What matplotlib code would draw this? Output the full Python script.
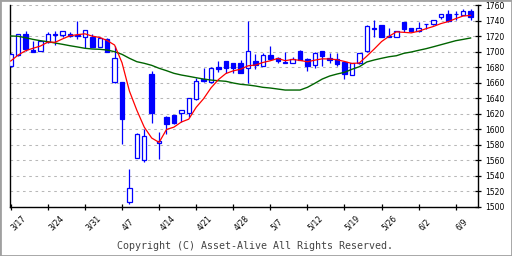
import matplotlib
matplotlib.use("Agg")
import matplotlib.pyplot as plt
from matplotlib.patches import Rectangle

# daily candles (price)
opens = [1681, 1696, 1722.5, 1702.7, 1701.4, 1713, 1723.3, 1721.3, 1723.3, 1721.5,
         1719.5, 1719.5, 1706.5, 1716.9, 1660.6, 1661, 1505.7, 1563.2, 1559.9, 1671.3,
         1581.8, 1615.4, 1618.4, 1620.6, 1620.6, 1638.6, 1664.5, 1660.6, 1680.3, 1688.1,
         1685.5, 1685.5, 1678.7, 1688.1, 1682, 1695.8, 1691.6, 1685.1, 1685.1, 1701,
         1690.3, 1682.5, 1700.6, 1691.6, 1690.3, 1686.6, 1670.4, 1685.1, 1700.6, 1730,
         1734.6, 1720.4, 1719.5, 1738, 1730.7, 1727, 1735.3, 1735.5, 1744.5, 1748.4,
         1749, 1747.5, 1752.6]
highs = [1698, 1723, 1726.4, 1713.9, 1713.5, 1725, 1726.4, 1727, 1725, 1740,
         1728, 1723, 1718, 1718, 1707.8, 1661, 1548.7, 1594.5, 1599.9, 1675.2,
         1596, 1617, 1619, 1625, 1640, 1666.1, 1679, 1680.7, 1688.1, 1688.1,
         1686, 1689.4, 1740.1, 1697.1, 1698.4, 1707.5, 1693, 1699.7, 1693.6, 1702.3,
         1691.6, 1700, 1701, 1698, 1698, 1687, 1686, 1698, 1734.6, 1740.6,
         1735, 1730.3, 1727, 1738, 1731, 1738.4, 1736, 1741, 1748.5, 1753.9,
         1752.3, 1754.8, 1755.2]
lows = [1680, 1695, 1701.4, 1700, 1701.4, 1711, 1708.6, 1719, 1719, 1716,
        1704.5, 1706, 1706, 1700, 1660, 1580.9, 1503, 1563, 1557.3, 1608.4,
        1562, 1593.5, 1607, 1609.7, 1615.4, 1638, 1661, 1660, 1674.3, 1673,
        1673, 1672, 1660.1, 1677.8, 1682, 1689.4, 1685.1, 1685, 1685, 1689,
        1675.6, 1678.7, 1682, 1685.1, 1682, 1665.2, 1670, 1684, 1700, 1719.5,
        1719, 1719, 1719, 1725.9, 1726, 1726, 1729.8, 1735, 1742.7, 1739,
        1741.4, 1747, 1741]
closes = [1697, 1722.5, 1704, 1700, 1713.5, 1722.5, 1721.3, 1726.4, 1720, 1720.5,
          1727.7, 1706.5, 1717.8, 1700, 1691.6, 1613.6, 1523.7, 1593.5, 1591.3, 1621.3,
          1585.2, 1607.1, 1608.4, 1624.4, 1639.9, 1661.9, 1662.3, 1678.7, 1677.6, 1679,
          1679.4, 1673, 1700.6, 1682.5, 1695.4, 1690.7, 1687.7, 1686.3, 1690.3, 1689.4,
          1682, 1698, 1694.7, 1689.4, 1684.3, 1671.1, 1685.1, 1698, 1732.9, 1730.3,
          1719.5, 1719.5, 1726.4, 1729.8, 1727, 1730.3, 1735.5, 1741, 1748.4, 1739.7,
          1749.4, 1752.6, 1744.5]

# short (red) and long (green) moving average lines as drawn
ma_short = [1688.1, 1695.8, 1701.4, 1704.5, 1707.4, 1712.5, 1712.3, 1716.7, 1720.7, 1722.1,
            1723.2, 1720.2, 1718.5, 1714.5, 1708.7, 1685.9, 1649.3, 1624.5, 1602.7, 1588.7,
            1583, 1599.7, 1602.7, 1609.3, 1613, 1628.3, 1639.4, 1653.4, 1664.1, 1671.9,
            1675.4, 1677.5, 1681.9, 1682.9, 1686.2, 1688.4, 1691.4, 1688.5, 1690.1, 1688.9,
            1687.1, 1689.2, 1690.9, 1690.7, 1689.7, 1687.5, 1684.9, 1685.6, 1694.3, 1703.5,
            1713.2, 1720, 1725.7, 1725.1, 1724.4, 1726.6, 1729.8, 1732.7, 1736.4, 1739,
            1742.8, 1746.2, 1746.9]
ma_long = [1720.4, 1720, 1718.2, 1716, 1714.3, 1713, 1711.3, 1709.6, 1707.8, 1706.2,
           1704.5, 1703.6, 1703.2, 1702.3, 1700.1, 1696.7, 1691.6, 1687.2, 1685.1, 1682.5,
           1678.7, 1675.6, 1672.2, 1670, 1668.3, 1666.5, 1664.8, 1663.5, 1662.6, 1661.9,
           1659.7, 1658, 1657.1, 1655.8, 1654.1, 1653.2, 1651.9, 1650.6, 1650.6, 1650.6,
           1654.1, 1659.3, 1664.8, 1668.7, 1671.3, 1673.5, 1677.4, 1680.7, 1686.8, 1689.4,
           1691.6, 1693.6, 1694.9, 1698, 1699.7, 1701.9, 1704, 1706.5, 1709.1, 1711.7,
           1714.3, 1716, 1717.8]

date_labels = ['3/17', '3/24', '3/31', '4/7', '4/14', '4/21', '4/28',
               '5/7', '5/12', '5/19', '5/26', '6/2', '6/9']

blue = '#0000ff'
fig = plt.figure(figsize=(5.12, 2.56), dpi=100)
ax = fig.add_axes([10 / 512, 49.3 / 256, 468 / 512, 201.4 / 256])

xs = list(range(len(closes)))

# grid
ax.set_yticks(range(1500, 1761, 20))
ax.grid(axis='y', color='#b8b8b8', linestyle=(0, (2.5, 3.5)), lw=0.75)
ax.set_axisbelow(True)

# candles
ax.vlines(xs, lows, highs, color=blue, lw=0.9, zorder=2)
for x, o, c in zip(xs, opens, closes):
    up = c >= o
    ax.bar(x, max(abs(c - o), 0.4), bottom=min(o, c), width=0.6,
           facecolor='white' if up else blue, edgecolor=blue, lw=0.9, zorder=3)

ax.plot(xs, ma_long, color='#006400', lw=1.0, zorder=4)
ax.plot(xs, ma_short, color='#ff0000', lw=0.9, zorder=5)

ax.set_xlim(-0.1, 63)
ax.set_ylim(1500, 1760)

ax.spines['top'].set_visible(False)
for s in ['left', 'bottom', 'right']:
    ax.spines[s].set_color('black')
    ax.spines[s].set_linewidth(1.0)

ax.yaxis.tick_right()
ax.tick_params(axis='y', direction='inout', length=4, width=0.9, labelsize=5.5, pad=3)
ax.set_xticks(range(0, 63, 5))
ax.tick_params(axis='x', direction='inout', length=5, width=0.9, labelbottom=False)

for i, lab in enumerate(date_labels):
    ax.text(i * 5 + 0.7, -0.125, lab, transform=ax.get_xaxis_transform(), rotation=45,
            rotation_mode='anchor', ha='left', va='bottom', fontsize=5.5)

fig.text(255 / 512, 1 - 246 / 256, 'Copyright (C) Asset-Alive All Rights Reserved.',
         ha='center', va='center', fontsize=7.2, family='DejaVu Sans Mono', color='#444444')

fig.patches.append(Rectangle((0, 0), 1, 1, transform=fig.transFigure, fill=False,
                             edgecolor='#a0a0a0', lw=2))

fig.savefig('out.png', dpi=100)
